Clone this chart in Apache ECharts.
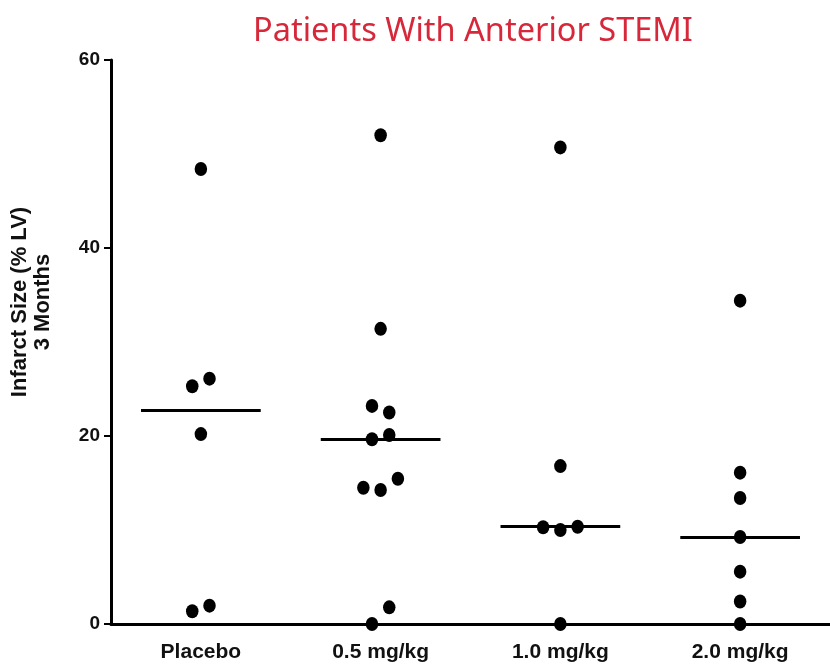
<!DOCTYPE html>
<html>
<head>
<meta charset="utf-8">
<script src="https://cdn.jsdelivr.net/npm/echarts@6/dist/echarts.min.js"></script>
<style>html,body{margin:0;padding:0;background:#fff}#c{width:830px;height:669px}</style>
</head>
<body>
<div id="c"></div>
<script>
var categories = ['Placebo', '0.5 mg/kg', '1.0 mg/kg', '2.0 mg/kg'];
var yTicks = [0, 20, 40, 60];
// values (% LV) and horizontal jitter (in category units) per group
var placeboVals = [48.4, 26.1, 25.3, 20.2, 1.95, 1.35];
var placeboJit  = [0, 0.048, -0.048, 0, 0.048, -0.048];
var dose05Vals  = [52.0, 31.4, 23.2, 22.5, 20.1, 19.65, 15.46, 14.26, 14.5, 1.77, 0];
var dose05Jit   = [0, 0, -0.048, 0.048, 0.048, -0.048, 0.096, 0, -0.096, 0.048, -0.048];
var dose10Vals  = [50.7, 16.8, 10.35, 10.0, 10.3, 0];
var dose10Jit   = [0, 0, 0.096, 0, -0.096, 0];
var dose20Vals  = [34.4, 16.1, 13.4, 9.26, 5.57, 2.4, 0];
var dose20Jit   = [0, 0, 0, 0, 0, 0, 0];
var means = [22.7, 19.65, 10.35, 9.26];

var groups = [
  [placeboVals, placeboJit],
  [dose05Vals, dose05Jit],
  [dose10Vals, dose10Jit],
  [dose20Vals, dose20Jit]
];
var points = [];
groups.forEach(function (g, i) {
  g[0].forEach(function (v, j) { points.push([i + g[1][j], v]); });
});
var halfLen = 0.333;
var meanLines = means.map(function (m, i) {
  return [{ coord: [i - halfLen, m] }, { coord: [i + halfLen, m] }];
});

var chart = echarts.init(document.getElementById('c'));
chart.setOption({
  animation: false,
  title: {
    text: 'Patients With Anterior STEMI',
    left: 248, top: 10,
    textStyle: { color: '#d6283a', fontFamily: 'Noto Sans', fontWeight: 'normal', fontSize: 32.5 }
  },
  grid: { left: 111, right: -1, top: 60, bottom: 45 },
  xAxis: [{
    type: 'category',
    data: categories,
    axisLine: { lineStyle: { color: '#000', width: 3 } },
    axisTick: { alignWithLabel: true, length: 6, lineStyle: { color: '#000', width: 2 } },
    axisLabel: { color: '#111', fontFamily: 'Liberation Sans', fontWeight: 'bold', fontSize: 21, margin: 18 }
  }, {
    type: 'value', min: -0.5, max: 3.5, show: false
  }],
  yAxis: {
    type: 'value', min: 0, max: 60, interval: 20,
    name: 'Infarct Size (% LV)\n3 Months',
    nameLocation: 'middle', nameGap: 57,
    nameTextStyle: { color: '#111', fontFamily: 'Liberation Sans', fontWeight: 'bold', fontSize: 22, lineHeight: 23, padding: [0, 0, 0, 80] },
    splitLine: { show: false },
    axisLine: { show: true, onZero: false, lineStyle: { color: '#000', width: 3 } },
    axisTick: { show: true, length: 7, lineStyle: { color: '#000', width: 2 } },
    axisLabel: { color: '#111', fontFamily: 'Liberation Sans', fontWeight: 'bold', fontSize: 19, margin: 11 }
  },
  series: [{
    type: 'scatter',
    xAxisIndex: 1,
    data: points,
    symbol: 'path://M0,1A1,1 0 1,1 2,1A1,1 0 1,1 0,1Z',
    symbolSize: [12.5, 14],
    itemStyle: { color: '#000', opacity: 1 },
    markLine: {
      silent: true, symbol: 'none',
      lineStyle: { color: '#000', width: 3, type: 'solid', opacity: 1 },
      label: { show: false },
      data: meanLines
    },
    z: 3
  }]
});
</script>
</body>
</html>
